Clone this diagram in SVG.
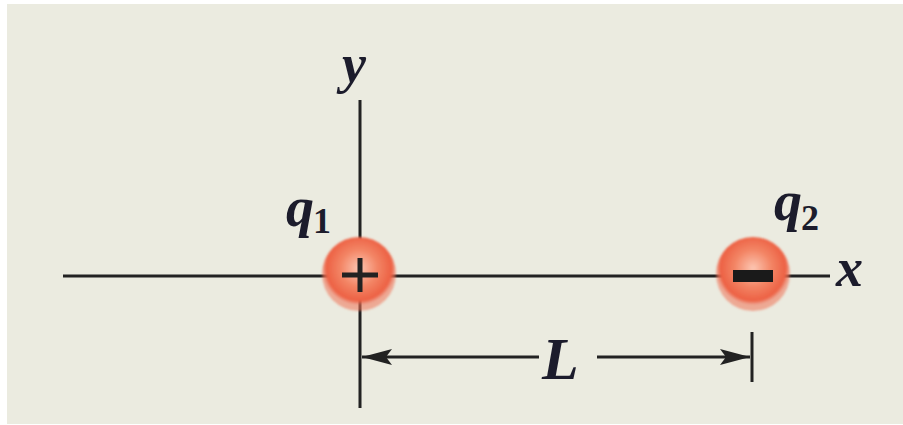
<svg xmlns="http://www.w3.org/2000/svg" width="903" height="425" viewBox="0 0 903 425">
<defs>
<radialGradient id="ball" cx="0.5" cy="0.42" r="0.5">
<stop offset="0" stop-color="#fcc6b2"/>
<stop offset="0.5" stop-color="#f38565"/>
<stop offset="0.88" stop-color="#ed6144"/>
<stop offset="1" stop-color="#ef7358" stop-opacity="0.55"/>
</radialGradient>
<marker id="arr" viewBox="0 0 30 16" refX="30" refY="8" markerWidth="30" markerHeight="16" markerUnits="userSpaceOnUse" orient="auto-start-reverse">
<path d="M0,0 L30,8 L0,16 L6,8 Z" fill="#222"/>
</marker>
<filter id="soft" x="-10%" y="-10%" width="120%" height="120%"><feGaussianBlur stdDeviation="1.2"/></filter>
</defs>
<style>
.ax{stroke:#222;stroke-width:3;fill:none}
.lbl{font-family:"Liberation Serif","Times New Roman",serif;font-style:italic;font-weight:bold;fill:#1c1c2c}
.sub{font-family:"Liberation Serif","Times New Roman",serif;font-weight:bold;fill:#1c1c2c}
</style>
<rect x="0" y="0" width="903" height="425" fill="#ffffff"/>
<rect x="7" y="4" width="896" height="420" fill="#ebebe0"/>
<g id="connectors">
<line class="ax" x1="63" y1="276" x2="830" y2="276"/>
<line class="ax" x1="360" y1="100" x2="360" y2="408"/>
<line class="ax" x1="752" y1="332" x2="752" y2="382"/>
<line class="ax" x1="362" y1="357" x2="539" y2="357" marker-start="url(#arr)"/>
<line class="ax" x1="597" y1="357" x2="750" y2="357" marker-end="url(#arr)"/>
</g>
<g id="q1">
<circle cx="359" cy="274" r="37" fill="url(#ball)" filter="url(#soft)"/>
<path d="M342,275 H378 M360,258 V292" stroke="#222" stroke-width="5" fill="none"/>
<text class="lbl" x="286" y="226" font-size="56">q</text>
<text class="sub" x="313" y="233" font-size="36">1</text>
</g>
<g id="q2">
<circle cx="753" cy="274" r="37" fill="url(#ball)" filter="url(#soft)"/>
<rect x="733" y="270" width="40" height="12" fill="#1a1a1a"/>
<text class="lbl" x="774" y="220" font-size="56">q</text>
<text class="sub" x="801" y="230" font-size="36">2</text>
</g>
<g id="labels">
<text class="lbl" x="836" y="286" font-size="54">x</text>
<text class="lbl" x="342" y="82" font-size="54">y</text>
<text class="lbl" x="542" y="379" font-size="60">L</text>
</g>
</svg>
